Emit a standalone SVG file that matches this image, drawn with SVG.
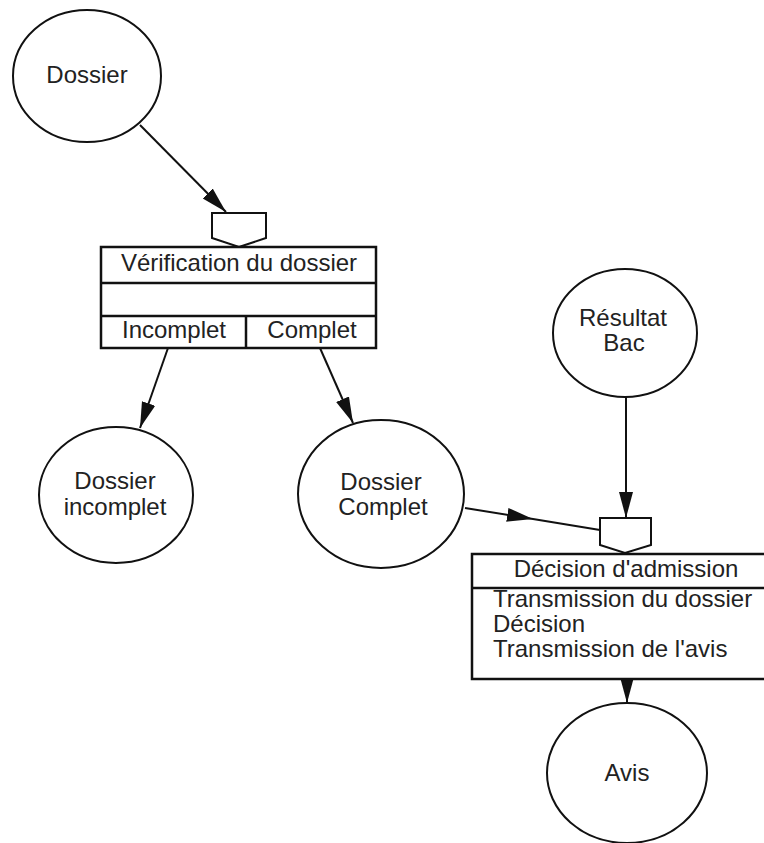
<svg xmlns="http://www.w3.org/2000/svg" width="764" height="843" viewBox="0 0 764 843">
<style>
  .n { fill: #fff; stroke: #111; stroke-width: 2; }
  .b { fill: #fff; stroke: #111; stroke-width: 2.5; }
  .l { fill: none; stroke: #111; stroke-width: 2.5; }
  .c { fill: none; stroke: #111; stroke-width: 2; }
  text { font-family: "Liberation Sans", Arial, sans-serif; font-size: 24px; fill: #222; }
  .m { text-anchor: middle; }
</style>
<defs>
  <marker id="ah" markerUnits="userSpaceOnUse" markerWidth="26" markerHeight="16" refX="26" refY="8" orient="auto">
    <path d="M0,1 L26,8 L0,15 Z" fill="#111"/>
  </marker>
</defs>
<rect width="764" height="843" fill="#fff"/>

<g id="connectors">
  <line class="c" x1="140" y1="125" x2="226" y2="212" marker-end="url(#ah)"/>
  <line class="c" x1="168" y1="348" x2="140" y2="428" marker-end="url(#ah)"/>
  <line class="c" x1="320" y1="348" x2="353" y2="423" marker-end="url(#ah)"/>
  <path class="c" d="M465,508 L533,519 L600,530" marker-mid="url(#ah)"/>
  <line class="c" x1="626" y1="397" x2="626" y2="518" marker-end="url(#ah)"/>
  <line class="c" x1="627" y1="679" x2="627" y2="703" marker-end="url(#ah)"/>
</g>

<g id="dossier">
  <ellipse class="n" cx="87" cy="76" rx="74" ry="66"/>
  <text class="m" x="87" y="83">Dossier</text>
</g>

<g id="verification">
  <polygon class="n" points="212,213 266,213 266,238 239,247 212,238"/>
  <rect class="b" x="101" y="247" width="275" height="101"/>
  <line class="l" x1="101" y1="283" x2="376" y2="283"/>
  <line class="l" x1="101" y1="316" x2="376" y2="316"/>
  <line class="l" x1="246" y1="316" x2="246" y2="348"/>
  <text class="m" x="239" y="271">Vérification du dossier</text>
  <text class="m" x="174" y="338">Incomplet</text>
  <text class="m" x="312" y="338">Complet</text>
</g>

<g id="dossier-incomplet">
  <ellipse class="n" cx="116" cy="495" rx="77" ry="68"/>
  <text class="m" x="115" y="489">Dossier</text>
  <text class="m" x="115" y="515">incomplet</text>
</g>

<g id="dossier-complet">
  <ellipse class="n" cx="381" cy="494" rx="83" ry="74"/>
  <text class="m" x="381" y="490">Dossier</text>
  <text class="m" x="383" y="515">Complet</text>
</g>

<g id="resultat-bac">
  <ellipse class="n" cx="625" cy="333" rx="72" ry="64"/>
  <text class="m" x="623" y="326">Résultat</text>
  <text class="m" x="624" y="351">Bac</text>
</g>

<g id="decision">
  <polygon class="n" points="600,518 651,518 651,545 625,553 600,545"/>
  <rect class="b" x="472" y="554" width="300" height="125"/>
  <line class="l" x1="472" y1="588" x2="772" y2="588"/>
  <text class="m" x="626" y="577">Décision d'admission</text>
  <text x="493" y="607">Transmission du dossier</text>
  <text x="493" y="632">Décision</text>
  <text x="493" y="657">Transmission de l'avis</text>
</g>

<g id="avis">
  <ellipse class="n" cx="627" cy="773" rx="80" ry="70"/>
  <text class="m" x="627" y="781">Avis</text>
</g>
</svg>
